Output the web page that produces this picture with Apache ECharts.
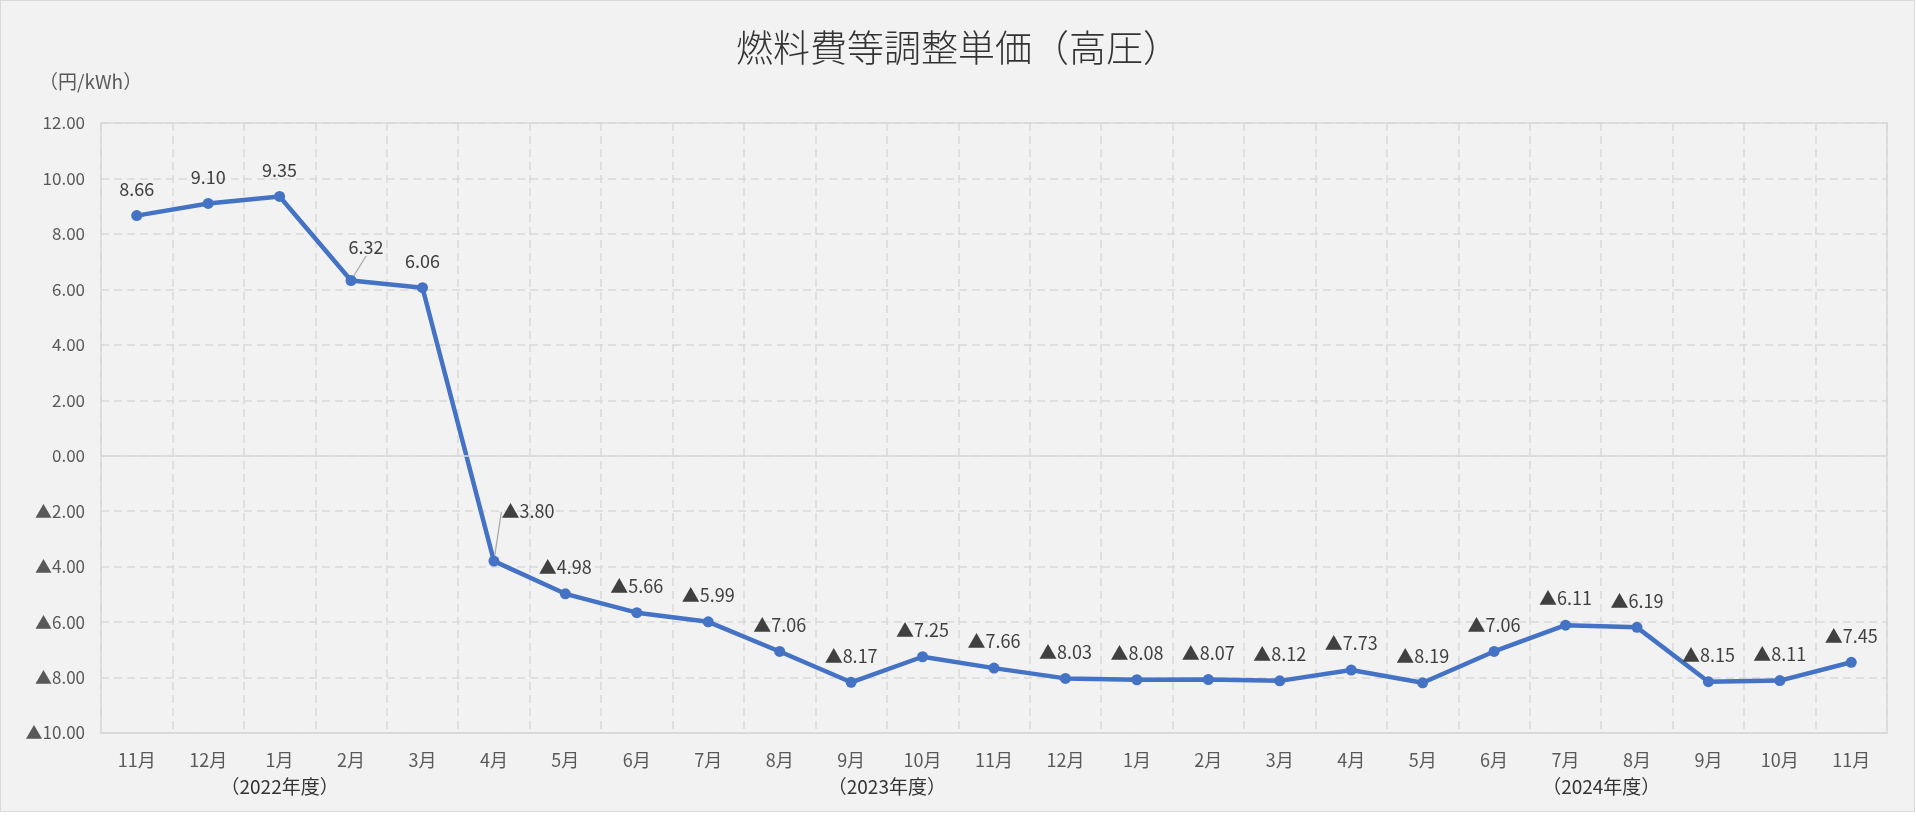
<!DOCTYPE html>
<html>
<head>
<meta charset="utf-8">
<script src="https://cdn.jsdelivr.net/npm/echarts@6/dist/echarts.min.js"></script>
<style>
  html, body { margin: 0; padding: 0; background: #ffffff; }
  #wrap { position: relative; width: 1916px; height: 827px; background: #ffffff; }
  #frame { position: absolute; left: 0; top: 0; width: 1913px; height: 810px; border: 1px solid #d9d9d9; background: #f2f2f2; }
  #chart { position: absolute; left: 0; top: 0; width: 1916px; height: 827px; }
</style>
</head>
<body>
<div id="wrap"><div id="frame"></div><div id="chart"></div></div>
<script>
// ---- data ----
const categories = ['11月','12月','1月','2月','3月','4月','5月','6月','7月','8月','9月','10月','11月','12月','1月','2月','3月','4月','5月','6月','7月','8月','9月','10月','11月'];
const values = [8.66, 9.10, 9.35, 6.32, 6.06, -3.80, -4.98, -5.66, -5.99, -7.06, -8.17, -7.25, -7.66, -8.03, -8.08, -8.07, -8.12, -7.73, -8.19, -7.06, -6.11, -6.19, -8.15, -8.11, -7.45];
const fiscalYearLabels = ['（2022年度）', '（2023年度）', '（2024年度）'];
const fiscalStartMonth = '4月';
const yMin = -10, yMax = 12, yInterval = 2;
const titleText = '燃料費等調整単価（高圧）';
const unitText = '（円/kWh）';

// ---- helpers ----
const FONT = '"Noto Sans CJK JP", "Noto Sans", sans-serif';
function fmt(v) {
  return v < 0 ? '▲' + Math.abs(v).toFixed(2) : v.toFixed(2);
}
// fiscal-year groups -> centers on a 0..N value scale
const groups = [];
let start = 0;
for (let i = 1; i <= categories.length; i++) {
  if (i === categories.length || categories[i] === fiscalStartMonth) {
    groups.push({ start: start, end: i });
    start = i;
  }
}
const groupCenters = groups.map(g => (g.start + g.end) / 2);
const centerToLabel = {};
groupCenters.forEach((c, i) => { centerToLabel[c] = fiscalYearLabels[i] || ''; });

// label displacement (with leader lines) for crowded points
const movedLabels = { 3: { dx: 15, dy: -7 }, 5: { dx: 34, dy: -23 } };

const seriesData = values.map((v, i) => {
  const item = { value: v };
  if (movedLabels[i]) item.labelLine = { show: true, lineStyle: { color: '#a6a6a6', width: 1.2 } };
  return item;
});

const chart = echarts.init(document.getElementById('chart'), null, { renderer: 'canvas' });
chart.setOption({
  backgroundColor: 'transparent',
  animation: false,
  textStyle: { fontFamily: FONT },
  title: [
    {
      text: titleText, left: 'center', top: 29, padding: 0,
      textStyle: { fontFamily: FONT, fontSize: 37, fontWeight: 300, color: '#333333' }
    },
    {
      text: unitText, left: 39, top: 72, padding: 0,
      textStyle: { fontFamily: FONT, fontSize: 19, fontWeight: 'normal', color: '#595959' }
    }
  ],
  grid: {
    left: 101, right: 29, top: 123, bottom: 94,
    show: true, borderColor: '#d9d9d9', borderWidth: 1.5, backgroundColor: 'transparent',
    containLabel: false
  },
  xAxis: [
    {
      type: 'category',
      data: categories,
      boundaryGap: true,
      axisLine: { show: true, onZero: false, lineStyle: { color: '#d9d9d9', width: 1.5 } },
      axisTick: { show: false },
      axisLabel: { interval: 0, margin: 18, fontSize: 18, color: '#595959', fontFamily: FONT },
      splitLine: { show: true, interval: 0, lineStyle: { color: '#d9d9d9', type: [8, 5], width: 1.5 } }
    },
    {
      type: 'value',
      position: 'bottom',
      min: 0, max: categories.length,
      axisLine: { show: false },
      axisTick: { show: false },
      splitLine: { show: false },
      axisLabel: {
        customValues: groupCenters,
        margin: 44, fontSize: 19, color: '#333333', fontFamily: FONT,
        formatter: v => centerToLabel[v] || ''
      }
    }
  ],
  yAxis: {
    type: 'value',
    min: yMin, max: yMax, interval: yInterval,
    axisLine: { show: false },
    axisTick: { show: false },
    axisLabel: { margin: 16, fontSize: 17, color: '#595959', fontFamily: FONT, formatter: v => fmt(v) },
    splitLine: { show: true, lineStyle: { color: '#d9d9d9', type: [8, 5], width: 1.5 } }
  },
  series: [
    {
      type: 'line',
      data: [],
      z: 1,
      silent: true,
      markLine: {
        silent: true, symbol: 'none', animation: false,
        label: { show: false },
        lineStyle: { color: '#d9d9d9', type: 'solid', width: 1.5 },
        data: [{ yAxis: 0 }]
      }
    },
    {
      type: 'line',
      data: seriesData,
      z: 3,
      symbol: 'circle',
      symbolSize: 11,
      itemStyle: { color: '#4472c4' },
      lineStyle: { color: '#4472c4', width: 4.5 },
      label: {
        show: true, position: 'top', distance: 12,
        fontSize: 18, color: '#404040', fontFamily: FONT,
        formatter: p => fmt(p.value)
      },
      labelLayout: function (params) {
        const m = movedLabels[params.dataIndex];
        return m ? { dx: m.dx, dy: m.dy } : {};
      }
    }
  ]
});
</script>
</body>
</html>
